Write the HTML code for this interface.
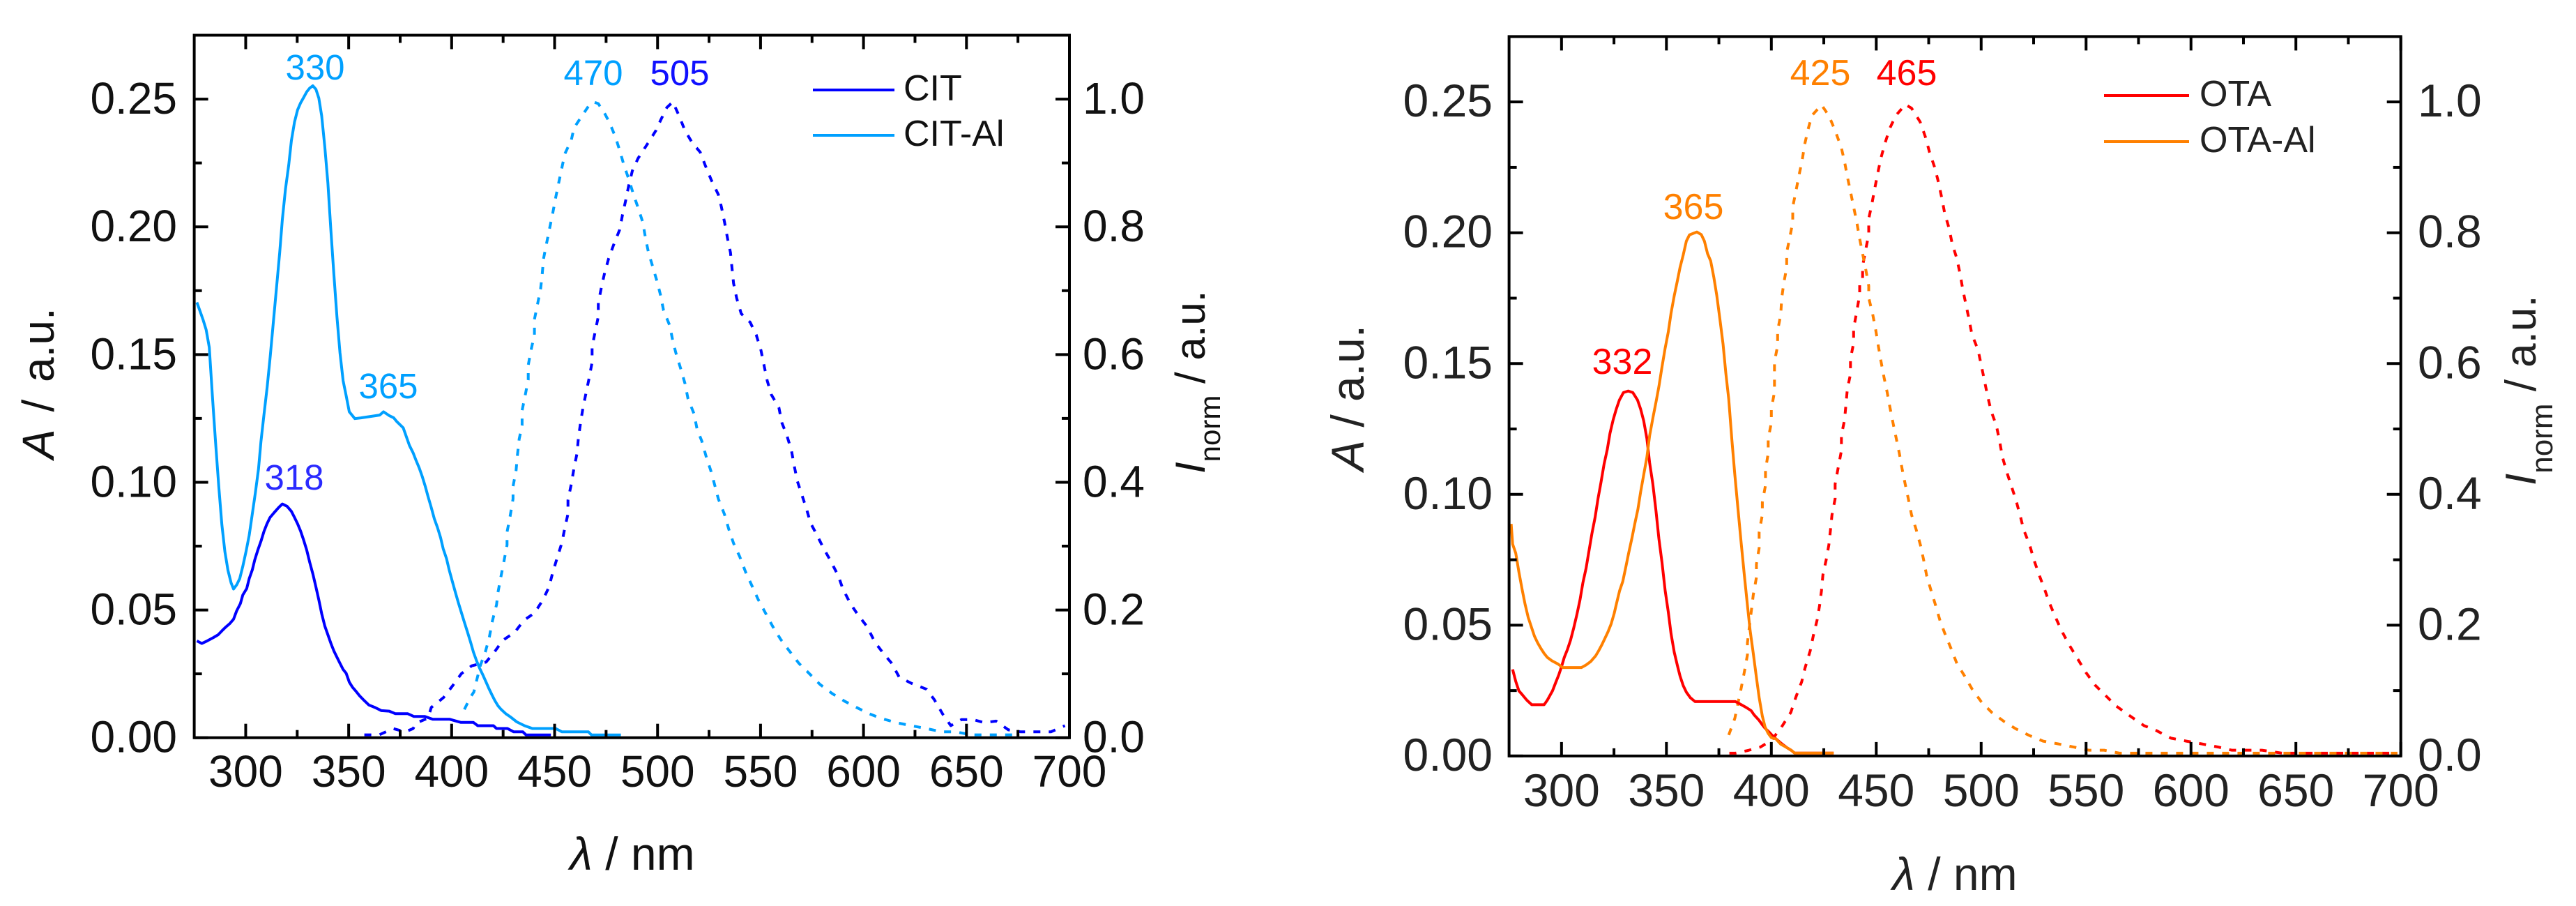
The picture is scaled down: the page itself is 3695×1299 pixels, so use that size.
<!DOCTYPE html>
<html lang="en">
<head>
<meta charset="utf-8">
<title>CIT and OTA absorption and emission spectra</title>
<style>
html,body{margin:0;padding:0;background:#fff;width:3695px;height:1299px;overflow:hidden}
svg{display:block}
text{font-family:"Liberation Sans",sans-serif}
</style>
</head>
<body>
<svg id="figure" xmlns="http://www.w3.org/2000/svg" width="3695" height="1299" viewBox="0 0 3695 1299">
  <rect x="0" y="0" width="3695" height="1299" fill="#fff"/>

  <g id="panel-left">
    <g id="left-marks"></g>
    <g id="left-axes"></g>
    <text transform="translate(77,658) rotate(-90)" font-size="64" fill="#111" style="word-spacing:7px"><tspan font-style="italic">A</tspan> / a.u.</text>
    <text transform="translate(1728,679) rotate(-90)" font-size="60" fill="#111"><tspan font-style="italic">I</tspan><tspan dy="22" font-size="42">norm</tspan><tspan dy="-22"> / a.u.</tspan></text>
    <text x="907" y="1247" text-anchor="middle" font-size="66" fill="#111"><tspan font-style="italic">λ</tspan> / nm</text>
    <text x="452" y="114" text-anchor="middle" font-size="51" fill="#00a0ff">330</text>
    <text x="557" y="571" text-anchor="middle" font-size="51" fill="#00a0ff">365</text>
    <text x="851" y="122" text-anchor="middle" font-size="51" fill="#00a0ff">470</text>
    <text x="422" y="702" text-anchor="middle" font-size="51" fill="#2a2aff">318</text>
    <text x="975" y="122" text-anchor="middle" font-size="51" fill="#1010ff">505</text>
    <g>
      <line x1="1166" y1="129" x2="1283" y2="129" stroke="#0000ff" stroke-width="4"/>
      <text x="1296" y="144" font-size="52" fill="#111">CIT</text>
      <line x1="1166" y1="194" x2="1283" y2="194" stroke="#00a0ff" stroke-width="4"/>
      <text x="1296" y="209" font-size="52" fill="#111">CIT-Al</text>
    </g>
  </g>

  <g id="panel-right">
    <g id="right-marks"></g>
    <g id="right-axes"></g>
    <text transform="translate(1956,675) rotate(-90)" font-size="66" fill="#222"><tspan font-style="italic">A</tspan> / a.u.</text>
    <text transform="translate(3637,696) rotate(-90)" font-size="62" fill="#222"><tspan font-style="italic">I</tspan><tspan dy="24" font-size="44">norm</tspan><tspan dy="-24"> / a.u.</tspan></text>
    <text x="2804" y="1276" text-anchor="middle" font-size="66" fill="#222"><tspan font-style="italic">λ</tspan> / nm</text>
    <text x="2327" y="536" text-anchor="middle" font-size="52" fill="#ff0000">332</text>
    <text x="2735" y="122" text-anchor="middle" font-size="52" fill="#ff0000">465</text>
    <text x="2429" y="314" text-anchor="middle" font-size="52" fill="#ff8000">365</text>
    <text x="2611" y="122" text-anchor="middle" font-size="52" fill="#ff8000">425</text>
    <g>
      <line x1="3018" y1="137" x2="3140" y2="137" stroke="#ff0000" stroke-width="4"/>
      <text x="3155" y="152" font-size="52" fill="#222">OTA</text>
      <line x1="3018" y1="203" x2="3140" y2="203" stroke="#ff8000" stroke-width="4"/>
      <text x="3155" y="218" font-size="52" fill="#222">OTA-Al</text>
    </g>
  </g>
</svg>

<script>
// Shared tick values and labels
const xMajorTicks = [300, 350, 400, 450, 500, 550, 600, 650, 700];
const xMinorTicks = [325, 375, 425, 475, 525, 575, 625, 675];
const yMajorTicks = [0, 0.05, 0.10, 0.15, 0.20, 0.25];
const yMinorTicks = [0.025, 0.075, 0.125, 0.175, 0.225];
const leftYLabels = ["0.00", "0.05", "0.10", "0.15", "0.20", "0.25"];
const rightYLabels = ["0.0", "0.2", "0.4", "0.6", "0.8", "1.0"];

// CIT absorbance (solid)
const citAbsNm = [276.3,278.7,281.3,284.3,286.6,288.4,290.3,292.3,294.1,295.6,297.4,298.6,300.5,301.7,303.2,304.4,305.9,307.4,308.9,310.3,311.8,313.8,316,317.8,320.1,322.2,323.7,325.2,326.7,328.1,329.6,331.1,332.6,334,335.5,336.9,338.4,339.9,341.4,342.8,344.3,345.8,347.3,348.8,350.3,351.8,353.3,355.3,357.6,359.8,362.9,365.9,369.7,372.7,378.7,381.7,387,390.8,399.1,404.4,410.5,412.7,420.3,421.8,427.1,430.1,434.6,436.1,448.2];
const citAbs = [.0379,.0369,.0379,.0392,.0403,.0418,.0433,.0447,.0464,.0496,.0525,.0559,.0584,.0623,.0657,.0696,.0735,.0769,.0808,.0837,.0862,.0881,.0901,.0915,.0906,.0886,.0862,.0837,.0808,.0774,.0735,.0686,.0642,.0593,.0540,.0486,.0437,.0403,.0369,.0340,.0315,.0291,.0267,.0252,.0218,.0198,.0184,.0164,.0145,.0128,.0118,.0106,.0104,.0094,.0094,.0083,.0083,.0072,.0072,.0060,.0060,.0047,.0047,.0036,.0036,.0023,.0023,.0011,.0011];

// CIT-Al absorbance (solid)
const citAlAbsNm = [276.3,277.8,279.3,280.8,282.3,283.8,285.3,286.9,288.4,289.9,291.4,292.9,294.1,295.6,297.1,298.6,300.2,301.7,303.2,304.7,306.2,307.4,308.9,310.4,311.9,313.4,315,316.5,317.8,319.3,320.9,322.2,323.7,325.2,326.6,328.1,329.6,331.1,332.6,334.1,335.5,336.9,338.4,339.9,341.3,342.8,344.3,345.8,347.3,348.8,350.3,353,356,365.1,366.9,369.7,371.9,373.4,376.5,378,379.5,381.3,382.7,384.2,385.7,387.2,388.5,390.1,391.6,393.1,394.6,395.9,397.5,398.8,400.3,401.8,403.2,404.7,406.2,407.7,409.2,410.6,412.1,413.6,415.1,416.7,418,419.5,421,422.5,424,426.3,428.6,431.6,435.4,439.2,450.5,453.5,466.4,467.9,482.2];
const citAlAbs = [.1704,.1670,.1636,.1597,.1528,.134,.1164,.0984,.0835,.0728,.0655,.0606,.0582,.0598,.0623,.0671,.0730,.0793,.0876,.0959,.1052,.1159,.1266,.1372,.1492,.1624,.1767,.1899,.2029,.2148,.2243,.2338,.2411,.2458,.2484,.2506,.2528,.2543,.2552,.2538,.2504,.2435,.2313,.2172,.1995,.1814,.1648,.1506,.1397,.1338,.1276,.1249,.1252,.1263,.1276,.1261,.1252,.1237,.1213,.1179,.1144,.1115,.1086,.1057,.1023,.0984,.0945,.0901,.0857,.0823,.0784,.0740,.0701,.0657,.0613,.0569,.0530,.0491,.0452,.0413,.0374,.0335,.0301,.0272,.0247,.0218,.0194,.0169,.0145,.0125,.0111,.0094,.0081,.0062,.0047,.0036,.0036,.0023,.0023,.0011,.0011];

// CIT emission (dotted, right axis)
const citEmNm = [357.6,364.8,371.6,377.5,381.3,382.7,388.5,390.1,396.1,400.3,404.7,409.7,416.7,421,424.8,430.7,435.1,440.2,444.2,447.2,449.1,451.3,453.5,455,456.5,456.5,458.1,459.4,460.9,461.5,462.6,463.8,465.3,466.8,468.2,468.2,469.7,471.2,471.2,472.7,474.2,476.2,478.6,481.6,483,484.5,486,487.8,490.5,495.4,499.2,501.4,504.5,507.4,510.4,513.3,516.9,520.7,523,526,529.5,531,532.5,534,535.4,536.1,536.9,538.4,540.6,545,547.9,550.2,551.7,553.2,555.2,558.9,560.4,562.7,565,566.3,567.8,570.1,572.2,574.3,577.4,580.4,584.2,587.8,589.9,593.6,597.3,601.8,605.5,609.9,613.7,617.3,623.2,630.6,634.4,638.7,642.4,647.5,653.4,658.5,664.4,670.3,676.4,683.6,691,697.8];
const citEm = [.0045,.0045,.0143,.0092,.0143,.0228,.0306,.0474,.0630,.0806,.1001,.1125,.1184,.1352,.1524,.1652,.1839,.1952,.2152,.2354,.2588,.2823,.3049,.3291,.3505,.3720,.3973,.4219,.4453,.4675,.4929,.5171,.5404,.5638,.5880,.6122,.6356,.6594,.6808,.7050,.7265,.7499,.7713,.7955,.8193,.8408,.8649,.8883,.9071,.9313,.9508,.9664,.9867,.9956,.9742,.9508,.9313,.9168,.8973,.8739,.8505,.8310,.8076,.7811,.7596,.7362,.7116,.6882,.6640,.6504,.6309,.6067,.5833,.5595,.5373,.5171,.4929,.4742,.4500,.4266,.4024,.3798,.3595,.3361,.3173,.2978,.2760,.2530,.2335,.2101,.1925,.1738,.1496,.1309,.1165,.0950,.0853,.0759,.0595,.0357,.0189,.0283,.0283,.0236,.0260,.0123,.0092,.0092,.0092,.0189];

// CIT-Al emission (dotted, right axis)
const citAlEmNm = [406.2,409.2,410.8,412.1,413.9,416.5,418.3,419.8,421.8,422.5,424,425.4,426.9,426.9,428.4,429.8,429.8,431.3,431.9,432.8,434.2,434.2,435.7,437.2,437.2,438.7,440.2,440.2,441.7,443.2,444,444.6,446.1,447.6,449.1,450.5,452,453.5,455,458.1,459.4,463.8,466.8,468.9,471.2,474.2,476.5,479.5,481.6,483.7,486,488.3,490.4,492.8,494.1,495.6,497.6,500,501.4,502.9,505.9,507.4,508.9,511.2,513.3,514.8,517.7,519.2,521.5,523.6,526,528,529.5,532.5,534.6,536.9,539.9,542.8,545.8,548.8,552.4,556,559.7,563.5,568.6,573.2,578.9,584.9,590.8,596.6,602.6,608.3,615.9,623.1,630.6,638,644.6,652.6,666.7,675.6];
const citAlEm = [.0443,.0638,.0716,.0892,.1126,.1360,.1574,.1828,.2081,.2276,.2530,.2764,.3017,.3220,.3466,.3739,.3934,.4188,.4414,.4675,.4890,.5124,.5358,.5607,.5833,.6094,.6309,.6551,.6785,.7023,.7265,.7499,.7741,.7978,.8216,.8454,.8688,.8922,.9145,.9359,.9547,.9761,.9906,.9956,.9929,.9781,.9644,.9410,.9196,.8961,.8747,.8505,.8310,.8072,.7830,.7596,.7382,.7116,.6933,.6691,.6453,.6211,.6024,.5782,.5548,.5306,.5073,.4831,.4644,.4402,.4168,.3926,.3739,.3497,.3263,.3045,.2834,.2592,.2382,.2167,.1953,.1738,.1543,.1379,.1165,.1020,.0833,.0689,.0572,.0474,.0377,.0306,.0236,.0189,.0143,.0092,.0092,.0045,.0045,.0045];

// OTA absorbance (solid)
const otaAbsNm = [276.7,278.2,279.7,281.3,283.5,285.8,291.7,293.2,295.7,297.2,298.7,300,301.3,302.8,304.3,305.8,307.3,308.8,310.2,311.7,313.1,314.5,316,317.4,318.8,320.3,321.8,323.1,324.6,326.1,327.6,329.5,331.8,334,336.2,337.7,339.2,340.7,342,343.5,345,346.4,347.9,349.4,350.9,352.2,353.7,355.2,356.5,358,359.5,361.4,363.6,382.9,385.2,388.1,390.4,391.8,394.1,395.5,397,399,400.7,403,405.2,407.4,409.6,411.1,429.7];
const otaAbs = [.0331,.0285,.0249,.0234,.0213,.0196,.0196,.0213,.0249,.0280,.0310,.0341,.0377,.0407,.0443,.0489,.0540,.0596,.0662,.0718,.0785,.0851,.0912,.0984,.1045,.1116,.1172,.1234,.1285,.1326,.1361,.1389,.1395,.1389,.1361,.1326,.1280,.1213,.1121,.1040,.0938,.0831,.0739,.0632,.0550,.0468,.0397,.0346,.0305,.0269,.0244,.0223,.0208,.0208,.0198,.0185,.0173,.0157,.0137,.0121,.0106,.0091,.0076,.0060,.0045,.0032,.0021,.0011,.0011];

// OTA-Al absorbance (solid)
const otaAlAbsNm = [276,276.7,278.2,279.7,281.2,282.6,284.1,285.6,287.1,288.6,290.1,291.7,293.2,295.4,298.4,300.6,309.5,311.7,313.9,316.2,317.7,319.1,320.6,322.1,323.6,325.1,326.3,327.7,329.2,330.7,332,333.5,334.9,336.4,337.7,339.2,340.7,342,343.6,345.1,346.4,347.9,349.4,350.9,352.2,353.7,355.2,356.5,358,359.5,361,362.9,364.5,366.6,368.1,369.6,371.1,372.6,374,375.5,377,378.3,379.7,381.2,382.6,384.1,385.6,387.1,388.6,389.9,391.4,392.9,394.2,395.7,397,398.5,400,402.2,404.5,407.4,409.6,411.1,429.7];
const otaAlAbs = [.0887,.0810,.0775,.0703,.0637,.0581,.0530,.0494,.0458,.0433,.0412,.0392,.0377,.0364,.0351,.0338,.0338,.0348,.0361,.0382,.0402,.0423,.0448,.0474,.0504,.0545,.0586,.0632,.0667,.0724,.0775,.0831,.0887,.0943,.1009,.1076,.1142,.1224,.1295,.1356,.1412,.1488,.1559,.1621,.1692,.1759,.1816,.1868,.1915,.1968,.1992,.1998,.2003,.1993,.1968,.1920,.1892,.1830,.1759,.1668,.1573,.1464,.1364,.1208,.1076,.0943,.0815,.0693,.0576,.0479,.0392,.0300,.0224,.0152,.0111,.0086,.0070,.0065,.0045,.0032,.0021,.0011,.0011];

// OTA emission (dotted, right axis)
const otaEmNm = [380,382.9,388.9,394.8,400,404.5,409.3,411.7,414.5,416,418.5,420,421.8,423,423.9,424.6,426.1,427.4,428.2,428.9,430.4,430.4,431.9,433.4,433.4,434.9,435.6,436.2,437.7,437.7,439.2,439.2,440.7,442.1,442.1,443.5,443.5,445,446.4,446.4,447.9,449.4,450.7,452.2,454.2,456.5,459.3,462.6,463.8,466.8,470.9,473.4,475.4,477.9,479.7,481.2,482.6,484.7,486.2,488.4,489.9,491.2,492.7,494.2,495.6,498.5,500,501.5,503,504.7,507.3,508.8,510.1,512.2,514.5,516.6,518.8,520.2,523.1,525.2,527.4,530.4,532.5,535.5,538.4,542,546.4,550,554.3,559.3,564.4,570.3,577.6,583.4,590.5,597.8,605,613,619.4,633.8,643.5,698.4];
const otaEm = [.0043,.0043,.0084,.0137,.0239,.0423,.0668,.0900,.1137,.1341,.1606,.1839,.2076,.2300,.2525,.2770,.2994,.3227,.3464,.3688,.3933,.4157,.4414,.4668,.4904,.5137,.5382,.5609,.5837,.6072,.6312,.6533,.6795,.7053,.7244,.7301,.7491,.7745,.7974,.8213,.8441,.8696,.8909,.9137,.9373,.9601,.9791,.9913,.9962,.9905,.9696,.9468,.9232,.8993,.8764,.8536,.8301,.8069,.7833,.7605,.7377,.7141,.6909,.6681,.6445,.6209,.5981,.5749,.5513,.5280,.5047,.4810,.4574,.4341,.4117,.3913,.3647,.3464,.3227,.2994,.2790,.2533,.2341,.2117,.1912,.1696,.1463,.1272,.1084,.0925,.0762,.0627,.0464,.0390,.0272,.0227,.0186,.0137,.0088,.0088,.0043,.0043];

// OTA-Al emission (dotted, right axis)
const otaAlEmNm = [379.7,382.6,385.6,387.1,388.6,388.6,391.4,392.9,392.9,394.2,394.2,395.7,395.7,397.2,397.2,398.5,398.5,400,400,401.5,401.5,401.5,403,403,404.5,404.9,405.9,407.3,407.3,408.8,410.2,410.2,411.7,413.2,414.7,415.9,417.5,419.3,423.9,427.4,430.4,433.4,434.9,436.2,437.7,439.2,440.7,442.1,443.5,445,446.4,446.4,448.2,449.7,450.9,452.2,453.7,455.2,456.5,458,459.5,461,462.3,463.8,465.3,466.8,469,471.1,472.6,474,476.1,478.3,480.4,482.6,485.6,488.4,492,495.7,500,505,511,516.6,523.3,529.5,536.6,544.1,551.2,558.6,565.9,588.6,698.4];
const otaAlEm = [.0321,.0574,.1035,.1280,.1545,.1729,.2464,.2729,.2933,.3178,.3423,.3688,.3880,.4137,.4374,.4627,.4851,.5096,.5308,.5566,.5818,.6027,.6274,.6502,.6749,.6996,.7225,.7472,.7700,.7928,.8164,.8396,.8631,.8879,.9107,.9354,.9582,.9791,.9955,.9791,.9563,.9297,.9088,.8860,.8631,.8396,.8164,.7909,.7681,.7441,.7186,.7004,.6768,.6521,.6285,.6046,.5791,.5563,.5331,.5088,.4859,.4627,.4394,.4157,.3933,.3688,.3464,.3219,.2994,.2762,.2533,.2300,.2068,.1880,.1647,.1415,.1227,.1023,.0831,.0668,.0525,.0414,.0308,.0227,.0186,.0137,.0088,.0088,.0043,.0043,.0043];

const SVG_NS = "http://www.w3.org/2000/svg";

function makeScale(d0, d1, p0, p1) {
  return function (v) { return p0 + (v - d0) * (p1 - p0) / (d1 - d0); };
}

function pathFrom(xs, ys, xScale, yScale) {
  let d = "";
  const n = Math.min(xs.length, ys.length);
  for (let i = 0; i < n; i++) {
    d += (i ? "L" : "M") + xScale(xs[i]).toFixed(1) + " " + yScale(ys[i]).toFixed(1);
  }
  return d;
}

function addCurve(parent, name, xs, ys, xScale, yScale, color, dashed) {
  const p = document.createElementNS(SVG_NS, "path");
  
  
  p.setAttribute("d", pathFrom(xs, ys, xScale, yScale));
  p.setAttribute("fill", "none");
  p.setAttribute("stroke", color);
  p.setAttribute("stroke-width", "4");
  p.setAttribute("stroke-linejoin", "round");
  if (dashed) {
    p.setAttribute("stroke-dasharray", "10 12");
  }
  parent.appendChild(p);
}

function addTick(parent, x1, y1, x2, y2) {
  const t = document.createElementNS(SVG_NS, "line");
  
  
  t.setAttribute("x1", x1);
  t.setAttribute("y1", y1);
  t.setAttribute("x2", x2);
  t.setAttribute("y2", y2);
  t.setAttribute("stroke", "#000");
  t.setAttribute("stroke-width", "4");
  parent.appendChild(t);
}

function addLabel(parent, x, y, str, anchor, size, color) {
  const t = document.createElementNS(SVG_NS, "text");
  
  
  t.setAttribute("x", x);
  t.setAttribute("y", y);
  t.setAttribute("text-anchor", anchor);
  t.setAttribute("font-size", size);
  t.setAttribute("fill", color);
  t.textContent = str;
  parent.appendChild(t);
}

function drawAxes(g, o) {
  const xS = o.xS, yS = o.yS;
  const frame = document.createElementNS(SVG_NS, "rect");
  
  
  frame.setAttribute("x", o.left);
  frame.setAttribute("y", o.top);
  frame.setAttribute("width", o.right - o.left);
  frame.setAttribute("height", o.bottom - o.top);
  frame.setAttribute("fill", "none");
  frame.setAttribute("stroke", "#000");
  frame.setAttribute("stroke-width", "4");
  g.appendChild(frame);

  xMajorTicks.forEach(function (v) {
    const x = xS(v);
    addTick(g, x, o.bottom, x, o.bottom - 20);
    addTick(g, x, o.top, x, o.top + 20);
    addLabel(g, x, o.xLabelY, String(v), "middle", o.size, o.color);
  });
  xMinorTicks.forEach(function (v) {
    const x = xS(v);
    addTick(g, x, o.bottom, x, o.bottom - 11);
    addTick(g, x, o.top, x, o.top + 11);
  });
  yMajorTicks.forEach(function (v, i) {
    const y = yS(v);
    addTick(g, o.left, y, o.left + 20, y);
    addTick(g, o.right, y, o.right - 20, y);
    addLabel(g, o.yLabelLeft, y + 21, leftYLabels[i], "end", o.size, o.color);
    addLabel(g, o.yLabelRight, y + 21, rightYLabels[i], "start", o.size, o.color);
  });
  yMinorTicks.forEach(function (v) {
    const y = yS(v);
    addTick(g, o.left, y, o.left + 11, y);
    addTick(g, o.right, y, o.right - 11, y);
  });
}

// Left panel
const leftX = makeScale(275, 700, 278.6, 1534);
const leftA = makeScale(0, 0.275, 1057.7, 50.5);
const leftI = makeScale(0, 1.1, 1057.7, 50.5);
const leftMarks = document.getElementById("left-marks");
addCurve(leftMarks, "cit-al-emission-curve", citAlEmNm, citAlEm, leftX, leftI, "#00a0ff", true);
addCurve(leftMarks, "cit-emission-curve", citEmNm, citEm, leftX, leftI, "#0000ff", true);
addCurve(leftMarks, "cit-absorbance-curve", citAbsNm, citAbs, leftX, leftA, "#0000ff", false);
addCurve(leftMarks, "cit-al-absorbance-curve", citAlAbsNm, citAlAbs, leftX, leftA, "#00a0ff", false);
drawAxes(document.getElementById("left-axes"), {
  xS: leftX, yS: leftA, left: 278.6, right: 1534, top: 50.5, bottom: 1057.7,
  xLabelY: 1128, yLabelLeft: 254, yLabelRight: 1553, size: 64, color: "#111"
});

// Right panel
const rightX = makeScale(275, 700, 2164.6, 3443.7);
const rightA = makeScale(0, 0.275, 1083.9, 52.4);
const rightI = makeScale(0, 1.1, 1083.9, 52.4);
const rightMarks = document.getElementById("right-marks");
addCurve(rightMarks, "ota-emission-curve", otaEmNm, otaEm, rightX, rightI, "#ff0000", true);
addCurve(rightMarks, "ota-al-emission-curve", otaAlEmNm, otaAlEm, rightX, rightI, "#ff8000", true);
addCurve(rightMarks, "ota-absorbance-curve", otaAbsNm, otaAbs, rightX, rightA, "#ff0000", false);
addCurve(rightMarks, "ota-al-absorbance-curve", otaAlAbsNm, otaAlAbs, rightX, rightA, "#ff8000", false);
drawAxes(document.getElementById("right-axes"), {
  xS: rightX, yS: rightA, left: 2164.6, right: 3443.7, top: 52.4, bottom: 1083.9,
  xLabelY: 1156, yLabelLeft: 2141, yLabelRight: 3468, size: 66, color: "#222"
});
</script>
</body>
</html>
